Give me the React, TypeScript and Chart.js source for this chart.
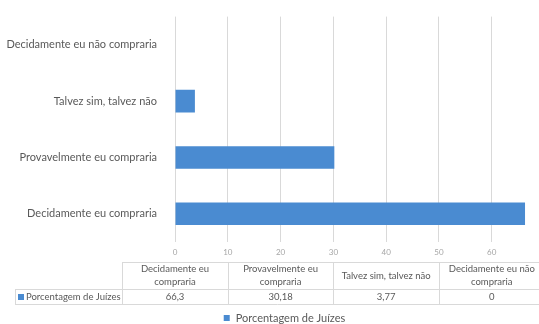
import React, { useEffect, useRef } from 'react';
import { Chart, registerables } from 'chart.js';

Chart.register(...registerables);

const categories = [
  'Decidamente eu compraria',
  'Provavelmente eu compraria',
  'Talvez sim, talvez não',
  'Decidamente eu não compraria',
];
const headerLines = [
  ['Decidamente eu', 'compraria'],
  ['Provavelmente eu', 'compraria'],
  ['Talvez sim, talvez não'],
  ['Decidamente eu não', 'compraria'],
];
const seriesName = 'Porcentagem de Juízes';
const values = [66.3, 30.18, 3.77, 0];
const valueLabels = ['66,3', '30,18', '3,77', '0'];
const xTicks = [0, 10, 20, 30, 40, 50, 60];

const FONT = 'Lato, "Open Sans", sans-serif';
const BAR = '#4a8bd1';
const GRID = '#d9d9d9';
const TEXT = '#595959';

const tablePlugin = {
  id: 'dataTable',
  afterDraw(chart: any) {
    const ctx = chart.ctx as CanvasRenderingContext2D;
    const xs = chart.scales.x;
    const area = chart.chartArea;
    const top = area.bottom + 20;
    const headH = 27;
    const rowH = 15;
    const labelLeft = 15;
    const step = 10;
    const bounds: number[] = [];
    for (let i = 0; i <= categories.length; i++) {
      bounds.push(xs.getPixelForValue((2 * i - 1) * step));
    }
    const right = bounds[bounds.length - 1];
    ctx.save();
    ctx.strokeStyle = GRID;
    ctx.lineWidth = 1;
    const h = (x1: number, x2: number, y: number) => {
      ctx.beginPath();
      ctx.moveTo(x1, Math.round(y) + 0.5);
      ctx.lineTo(x2, Math.round(y) + 0.5);
      ctx.stroke();
    };
    const v = (x: number, y1: number, y2: number) => {
      ctx.beginPath();
      ctx.moveTo(Math.round(x) + 0.5, y1);
      ctx.lineTo(Math.round(x) + 0.5, y2);
      ctx.stroke();
    };
    h(bounds[0], right, top);
    h(labelLeft, right, top + headH);
    h(labelLeft, right, top + headH + rowH);
    bounds.forEach((b) => v(b, top, top + headH + rowH));
    v(labelLeft, top + headH, top + headH + rowH);

    ctx.fillStyle = TEXT;
    ctx.font = `9.5px ${FONT}`;
    ctx.textAlign = 'center';
    ctx.textBaseline = 'middle';
    categories.forEach((_, i) => {
      const cx = (bounds[i] + bounds[i + 1]) / 2;
      const lines = headerLines[i];
      if (lines.length === 1) {
        ctx.fillText(lines[0], cx, top + headH / 2);
      } else {
        ctx.fillText(lines[0], cx, top + 7);
        ctx.fillText(lines[1], cx, top + 20);
      }
      ctx.fillText(valueLabels[i], cx, top + headH + rowH / 2 + 0.5);
    });
    // row label
    ctx.fillStyle = BAR;
    ctx.fillRect(18, top + headH + 5, 6, 6);
    ctx.fillStyle = TEXT;
    ctx.textAlign = 'left';
    ctx.fillText(seriesName, 26, top + headH + rowH / 2 + 0.5);

    // legend
    ctx.font = `11px ${FONT}`;
    const tw = ctx.measureText(seriesName).width;
    const total = 6 + 6 + tw;
    const lx = (chart.width - total) / 2 + 15;
    const ly = chart.height - 6;
    ctx.fillStyle = BAR;
    ctx.fillRect(lx, ly - 3, 6, 6);
    ctx.fillStyle = TEXT;
    ctx.fillText(seriesName, lx + 12, ly);
    ctx.restore();
  },
};

export default function App() {
  const ref = useRef<HTMLCanvasElement>(null);
  useEffect(() => {
    document.body.style.margin = '0';
    const chart = new Chart(ref.current!, {
      type: 'bar',
      data: {
        labels: categories,
        datasets: [
          {
            label: seriesName,
            data: values,
            backgroundColor: BAR,
            borderWidth: 0,
            barPercentage: 0.4,
            categoryPercentage: 1,
          },
        ],
      },
      options: {
        indexAxis: 'y',
        animation: false,
        responsive: false,
        maintainAspectRatio: false,
        layout: { padding: { top: 13, right: 5, left: 0, bottom: 0 } },
        plugins: { legend: { display: false }, tooltip: { enabled: false } },
        scales: {
          x: {
            min: 0,
            max: 68,
            afterFit: (s: any) => {
              s.height = 82;
            },
            afterBuildTicks: (s: any) => {
              s.ticks = xTicks.map((t) => ({ value: t }));
            },
            grid: { color: GRID, drawTicks: false },
            border: { display: false },
            ticks: {
              padding: 6,
              color: '#a6a6a6',
              font: { family: FONT, size: 8 },
            },
          },
          y: {
            reverse: true,
            afterFit: (s: any) => {
              s.width = 175;
            },
            grid: { display: false },
            border: { display: false },
            ticks: {
              padding: 10,
              color: TEXT,
              font: { family: FONT, size: 11 },
            },
          },
        },
      },
      plugins: [tablePlugin],
    });
    return () => chart.destroy();
  }, []);
  return (
    <div style={{ width: 539, height: 324 }}>
      <canvas ref={ref} width={539} height={324} style={{ display: 'block' }} />
    </div>
  );
}
